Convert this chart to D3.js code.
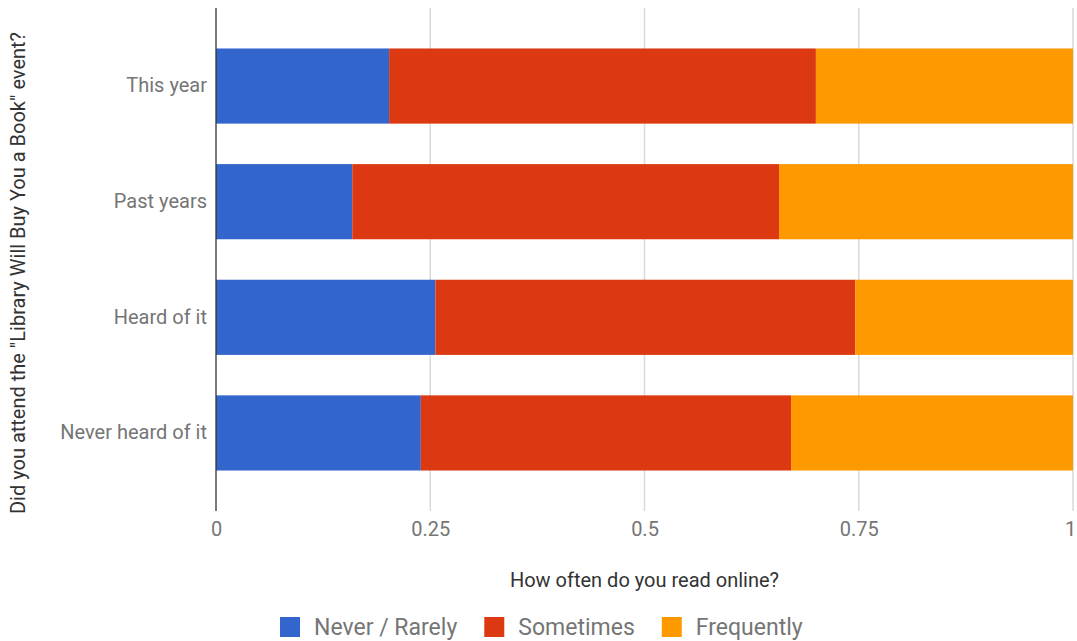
<!DOCTYPE html>
<html>
<head>
<meta charset="utf-8">
<script src="https://cdn.jsdelivr.net/npm/d3@7"></script>
<style>
  html, body { margin: 0; padding: 0; background: #fff; }
  svg { display: block; font-family: Roboto, "Noto Sans", Arial, sans-serif; }
</style>
</head>
<body>
<svg id="chart" width="1077" height="641"></svg>
<script>
// Survey responses: share of each reading-frequency answer per attendance group
const categories = ["This year", "Past years", "Heard of it", "Never heard of it"];
const seriesNames = ["Never / Rarely", "Sometimes", "Frequently"];
const neverRarely = [0.202, 0.159, 0.256, 0.239];
const sometimes   = [0.498, 0.498, 0.490, 0.432];
const frequently  = [0.300, 0.343, 0.254, 0.329];
const xTicks = [0, 0.25, 0.5, 0.75, 1];
const xTickLabels = ["0", "0.25", "0.5", "0.75", "1"];
const colors = ["#3366cc", "#dc3912", "#ff9900"];

const svg = d3.select("#chart");
const plot = { left: 216, right: 1073, top: 8, bottom: 511 };
const fontStack = "Roboto, 'Noto Sans', Arial, sans-serif";

const rows = categories.map((c, i) => ({
  category: c,
  "Never / Rarely": neverRarely[i],
  "Sometimes": sometimes[i],
  "Frequently": frequently[i]
}));
const stacked = d3.stack().keys(seriesNames)(rows);

const x = d3.scaleLinear().domain([0, 1]).range([plot.left, plot.right]);
const y = d3.scaleBand().domain(categories).range([plot.top, plot.bottom])
  .paddingInner(0.35).paddingOuter(0.35);

// vertical gridlines
svg.append("g")
  .selectAll("line")
  .data(xTicks.filter(t => t > 0))
  .join("line")
  .attr("x1", d => x(d)).attr("x2", d => x(d))
  .attr("y1", plot.top).attr("y2", plot.bottom)
  .attr("stroke", "#d9d9d9").attr("stroke-width", 1.5);

// stacked bars
svg.append("g")
  .selectAll("g")
  .data(stacked)
  .join("g")
  .attr("fill", (d, i) => colors[i])
  .selectAll("rect")
  .data(d => d)
  .join("rect")
  .attr("x", d => x(d[0]))
  .attr("width", d => x(d[1]) - x(d[0]))
  .attr("y", d => y(d.data.category))
  .attr("height", y.bandwidth());

// baseline
svg.append("line")
  .attr("x1", x(0)).attr("x2", x(0))
  .attr("y1", plot.top).attr("y2", plot.bottom)
  .attr("stroke", "#333").attr("stroke-width", 1.3);

// x axis tick labels
const xAxis = svg.append("g")
  .attr("transform", `translate(0,${plot.bottom})`)
  .call(d3.axisBottom(x).tickValues(xTicks)
    .tickFormat((d, i) => xTickLabels[i]).tickSize(0).tickPadding(11));
xAxis.select(".domain").remove();
xAxis.selectAll("text")
  .attr("fill", "#757575").style("font-size", "20px")
  .style("font-family", fontStack);
// keep the last label inside the right edge
xAxis.selectAll(".tick").filter(d => d === 1).select("text").attr("dx", "-3");

// y axis category labels
const yAxis = svg.append("g")
  .attr("transform", `translate(${plot.left},0)`)
  .call(d3.axisLeft(y).tickSize(0).tickPadding(9));
yAxis.select(".domain").remove();
yAxis.selectAll("text")
  .attr("fill", "#757575").style("font-size", "20px")
  .style("font-family", fontStack);

// axis titles
svg.append("text")
  .attr("x", (plot.left + plot.right) / 2).attr("y", 587)
  .attr("text-anchor", "middle")
  .attr("fill", "#333").style("font-size", "20px")
  .text("How often do you read online?");

svg.append("text")
  .attr("transform", "translate(25,273) rotate(-90)")
  .attr("text-anchor", "middle")
  .attr("fill", "#333").style("font-size", "20px")
  .text('Did you attend the "Library Will Buy You a Book" event?');

// legend
const legend = svg.append("g").attr("transform", "translate(0,627)");
const items = legend.selectAll("g").data(seriesNames).join("g");
items.append("rect")
  .attr("y", -10).attr("width", 20).attr("height", 20)
  .attr("fill", (d, i) => colors[i]);
items.append("text")
  .attr("x", 34).attr("dy", "0.34em")
  .attr("fill", "#757575").style("font-size", "23px")
  .text(d => d);
const widths = [];
items.each(function () {
  widths.push(34 + d3.select(this).select("text").node().getComputedTextLength());
});
const gap = 27;
let offset = 280;
items.attr("transform", (d, i) => {
  const t = `translate(${offset},0)`;
  offset += widths[i] + gap;
  return t;
});
</script>
</body>
</html>
